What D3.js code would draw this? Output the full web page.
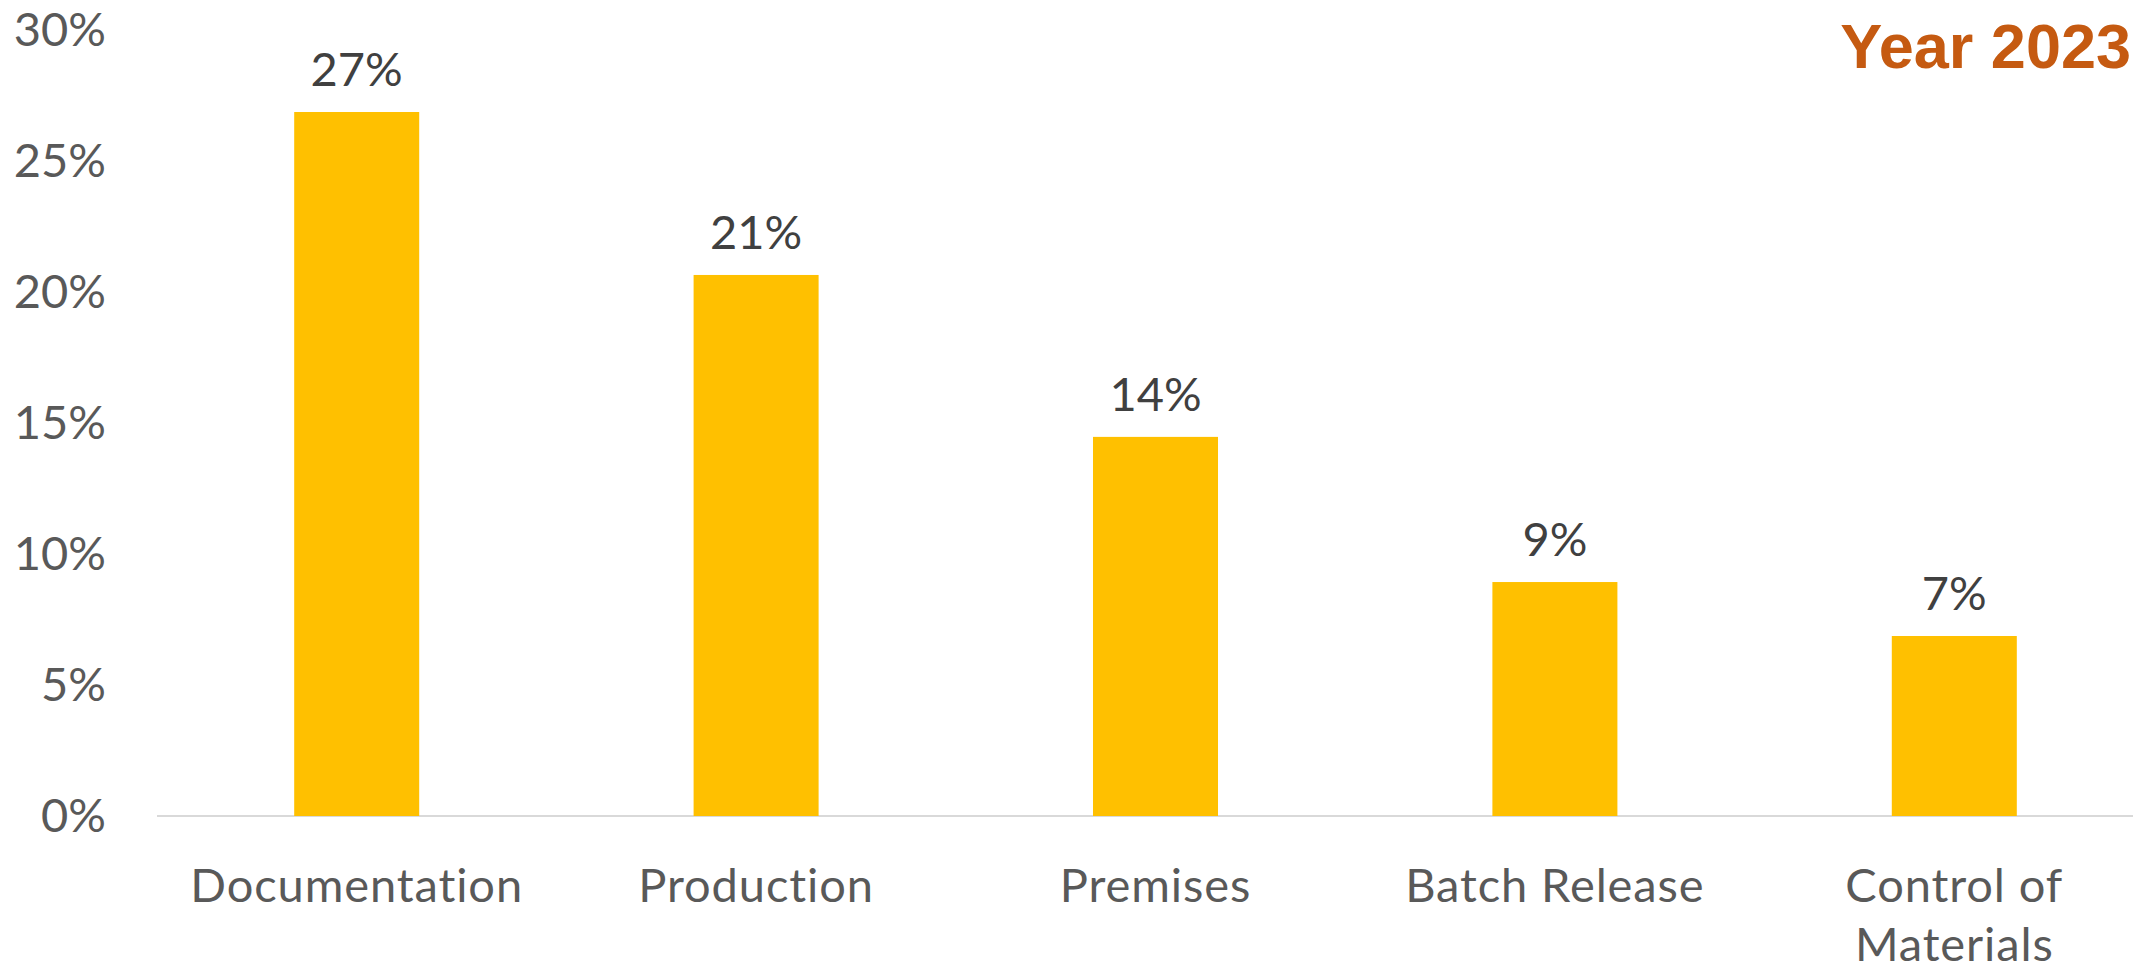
<!DOCTYPE html>
<html>
<head>
<meta charset="utf-8">
<script src="https://cdn.jsdelivr.net/npm/d3@7"></script>
<style>
  body { margin: 0; background: #fff; }
  svg { display: block; }
  text { font-variant-ligatures: none; }
</style>
</head>
<body>
<svg id="chart" width="2133" height="970"></svg>
<script>
var categories = ["Documentation", "Production", "Premises", "Batch Release", "Control of Materials"];
var values = [26.87, 20.65, 14.47, 8.93, 6.87];
var tickValues = [0, 5, 10, 15, 20, 25, 30];
var title = "Year 2023";

var svg = d3.select("#chart"),
    margin = {top: 30, left: 157},
    width = 1997,   // plot runs a bit past the right edge, as in the original
    baseY = 816;

var x = d3.scaleBand()
    .domain(categories)
    .range([margin.left, margin.left + width])
    .paddingInner(0.687)
    .paddingOuter(0.3435);

var y = d3.scaleLinear().domain([0, 30]).range([baseY, margin.top]);

var font = "Lato, 'Open Sans', sans-serif";

// y axis labels only, no line or ticks
var yAxis = svg.append("g")
    .attr("transform", "translate(106,0)")
    .call(d3.axisLeft(y).tickValues(tickValues).tickSize(0).tickPadding(0)
      .tickFormat(function(d) { return d + "%"; }));
yAxis.select(".domain").remove();
yAxis.selectAll("text")
    .style("font-family", font)
    .style("font-size", "47px")
    .attr("fill", "#595959");

// baseline
svg.append("line")
    .attr("x1", margin.left).attr("x2", 2133)
    .attr("y1", baseY).attr("y2", baseY)
    .attr("stroke", "#d9d9d9")
    .attr("stroke-width", 2);

var data = categories.map(function(c, i) { return {cat: c, value: values[i]}; });

svg.selectAll(".bar")
    .data(data)
    .enter().append("rect")
    .attr("class", "bar")
    .attr("x", function(d) { return x(d.cat); })
    .attr("width", x.bandwidth())
    .attr("y", function(d) { return y(d.value); })
    .attr("height", function(d) { return baseY - y(d.value); })
    .attr("fill", "#ffc000");

svg.selectAll(".label")
    .data(data)
    .enter().append("text")
    .attr("class", "label")
    .attr("x", function(d) { return x(d.cat) + x.bandwidth() / 2; })
    .attr("y", function(d) { return y(d.value) - 26; })
    .attr("text-anchor", "middle")
    .style("font-family", font)
    .style("font-size", "47px")
    .attr("fill", "#404040")
    .text(function(d) { return Math.round(d.value) + "%"; });

// category labels, wrapped like Excel does
var catLines = {"Control of Materials": ["Control of", "Materials"]};
var cats = svg.selectAll(".cat")
    .data(categories)
    .enter().append("text")
    .attr("class", "cat")
    .attr("text-anchor", "middle")
    .style("font-family", font)
    .style("font-size", "47px")
    .style("letter-spacing", "0.9px")
    .attr("fill", "#595959");
cats.each(function(c) {
  var lines = catLines[c] || [c];
  var t = d3.select(this);
  lines.forEach(function(l, i) {
    t.append("tspan")
      .attr("x", x(c) + x.bandwidth() / 2)
      .attr("y", 902 + i * 59)
      .text(l);
  });
});

svg.append("text")
    .attr("x", 2131)
    .attr("y", 68)
    .attr("text-anchor", "end")
    .style("font-family", "'Liberation Sans', Arial, sans-serif")
    .style("font-weight", "bold")
    .style("font-size", "63px")
    .attr("fill", "#c55a11")
    .text(title);
</script>
</body>
</html>
